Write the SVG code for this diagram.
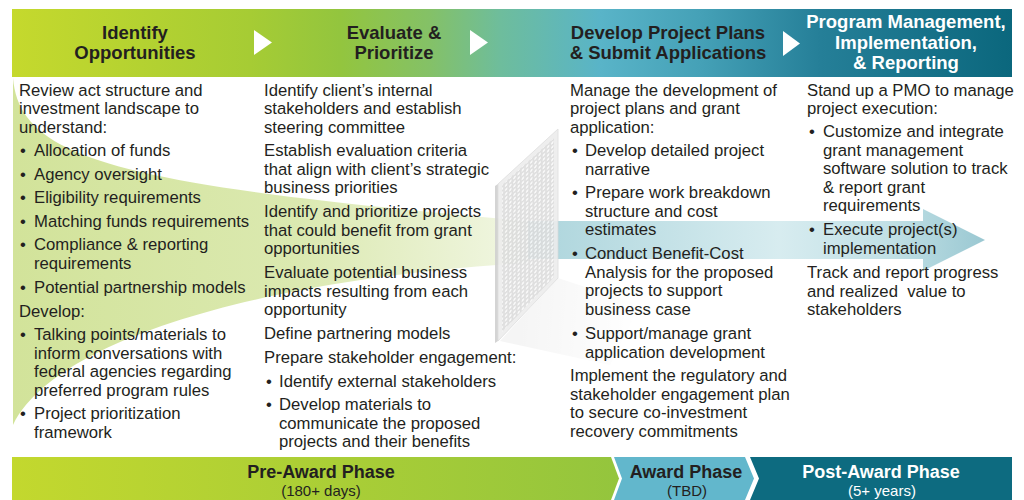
<svg xmlns="http://www.w3.org/2000/svg" width="1024" height="500" viewBox="0 0 1024 500">
  <defs>
    <style>
      .hd { font-family: "Liberation Sans", Arial, sans-serif; font-weight: bold; font-size: 18.5px; fill: #231f20; text-anchor: middle; }
      .hdw { fill: #ffffff; }
      .tx { font-family: "Liberation Sans", Arial, sans-serif; font-size: 16.7px; fill: #231f20; }
      .ph { font-family: "Liberation Sans", Arial, sans-serif; font-weight: bold; font-size: 18px; fill: #231f20; text-anchor: middle; }
      .ps { font-family: "Liberation Sans", Arial, sans-serif; font-size: 15px; fill: #231f20; text-anchor: middle; }
      .wt { fill: #ffffff; }
      .chev { fill: #ffffff; }
    </style>
    <linearGradient id="bandGrad" gradientUnits="userSpaceOnUse" x1="12" y1="0" x2="1012" y2="0">
      <stop offset="0" stop-color="#c5d92d"/>
      <stop offset="0.238" stop-color="#a6cc34"/>
      <stop offset="0.328" stop-color="#93c53e"/>
      <stop offset="0.418" stop-color="#84c167"/>
      <stop offset="0.488" stop-color="#6ebd9c"/>
      <stop offset="0.588" stop-color="#59b4c8"/>
      <stop offset="0.688" stop-color="#45a1b7"/>
      <stop offset="0.808" stop-color="#257f98"/>
      <stop offset="1" stop-color="#0b677d"/>
    </linearGradient>
    <linearGradient id="preGrad" gradientUnits="userSpaceOnUse" x1="12" y1="0" x2="619" y2="0">
      <stop offset="0" stop-color="#c3d82e"/>
      <stop offset="1" stop-color="#94c53d"/>
    </linearGradient>
    <linearGradient id="funnelGrad" gradientUnits="userSpaceOnUse" x1="13" y1="0" x2="528" y2="0">
      <stop offset="0" stop-color="#d2e39a"/>
      <stop offset="0.55" stop-color="#dbe9b0"/>
      <stop offset="0.95" stop-color="#eff5de"/>
      <stop offset="1" stop-color="#e3eee9"/>
    </linearGradient>
    <linearGradient id="arrowGrad" gradientUnits="userSpaceOnUse" x1="528" y1="0" x2="985" y2="0">
      <stop offset="0" stop-color="#a3d0d8"/>
      <stop offset="0.55" stop-color="#d3eaee"/>
      <stop offset="0.8" stop-color="#b9dce2"/>
      <stop offset="1" stop-color="#8fc2cd"/>
    </linearGradient>
    <linearGradient id="shadowGrad" gradientUnits="userSpaceOnUse" x1="520" y1="320" x2="640" y2="330">
      <stop offset="0" stop-color="#000000" stop-opacity="0.04"/>
      <stop offset="1" stop-color="#000000" stop-opacity="0"/>
    </linearGradient>
    <pattern id="holes" patternUnits="userSpaceOnUse" width="4.2" height="4.2" patternTransform="skewY(-42.5)">
      <rect width="4.2" height="4.2" fill="#dcdcdc"/>
      <circle cx="2.1" cy="2.1" r="1.3" fill="#fafafa"/>
    </pattern>
  </defs>

  <rect width="1024" height="500" fill="#ffffff"/>

  <!-- stage header band -->
  <rect id="stage-band" x="12" y="9" width="1000" height="68" fill="url(#bandGrad)"/>

  <!-- flow: funnel narrowing into the screen, arrow leaving it -->
  <g id="connectors">
    <path id="funnel" d="M13,78 C20,160 120,185 528,221 L528,263 C300,276 60,330 13,425 Z" fill="url(#funnelGrad)"/>
    <path id="flow-arrow" d="M528,221 L923,221 L923,209 L985,240 L923,271 L923,259 L528,259 Z" fill="url(#arrowGrad)" opacity="0.9"/>
    <polygon class="chev" points="254,30 272,42.5 254,55"/>
    <polygon class="chev" points="470,30 488,42.5 470,55"/>
    <polygon class="chev" points="783,31 800,43.5 783,56"/>
  </g>

  <!-- perforated screening panel -->
  <g id="screen">
    <polygon points="500,341 558,278 640,305 610,365" fill="url(#shadowGrad)"/>
    <g opacity="0.9">
      <polygon points="495,186 498,184 498,341 495,343" fill="#d0d0d0"/>
      <polygon points="498,184 558,129 558,278 498,341" fill="#ededed" stroke="#dadada" stroke-width="0.8"/>
      <polygon points="502,185 554,138 554,277 502,332" fill="url(#holes)"/>
    </g>
  </g>

  <!-- stage headings -->
  <g id="stage-identify">
    <text class="hd" x="135" y="39">Identify</text>
    <text class="hd" x="135" y="59">Opportunities</text>
  </g>
  <g id="stage-evaluate">
    <text class="hd" x="394" y="39">Evaluate &amp;</text>
    <text class="hd" x="394" y="59">Prioritize</text>
  </g>
  <g id="stage-develop">
    <text class="hd" x="668" y="39">Develop Project Plans</text>
    <text class="hd" x="668" y="59">&amp; Submit Applications</text>
  </g>
  <g id="stage-program">
    <text class="hd hdw" x="906" y="28">Program Management,</text>
    <text class="hd hdw" x="906" y="48.5">Implementation,</text>
    <text class="hd hdw" x="906" y="69">&amp; Reporting</text>
  </g>

  <!-- column 1 -->
  <g id="col-identify" class="tx">
    <text x="19" y="95.5">Review act structure and</text>
    <text x="19" y="114">investment landscape to</text>
    <text x="19" y="132.5">understand:</text>
    <text x="20" y="156">•</text><text x="34" y="156">Allocation of funds</text>
    <text x="20" y="179.5">•</text><text x="34" y="179.5">Agency oversight</text>
    <text x="20" y="203">•</text><text x="34" y="203">Eligibility requirements</text>
    <text x="20" y="226.5">•</text><text x="34" y="226.5">Matching funds requirements</text>
    <text x="20" y="250">•</text><text x="34" y="250">Compliance &amp; reporting</text>
    <text x="34" y="268.5">requirements</text>
    <text x="20" y="293">•</text><text x="34" y="293">Potential partnership models</text>
    <text x="19" y="316.5">Develop:</text>
    <text x="20" y="340">•</text><text x="34" y="340">Talking points/materials to</text>
    <text x="34" y="358.5">inform conversations with</text>
    <text x="34" y="377">federal agencies regarding</text>
    <text x="34" y="395.5">preferred program rules</text>
    <text x="20" y="419">•</text><text x="34" y="419">Project prioritization</text>
    <text x="34" y="437.5">framework</text>
  </g>

  <!-- column 2 -->
  <g id="col-evaluate" class="tx">
    <text x="264" y="95.5">Identify client’s internal</text>
    <text x="264" y="114">stakeholders and establish</text>
    <text x="264" y="132.5">steering committee</text>
    <text x="264" y="156">Establish evaluation criteria</text>
    <text x="264" y="174.5">that align with client’s strategic</text>
    <text x="264" y="193">business priorities</text>
    <text x="264" y="217">Identify and prioritize projects</text>
    <text x="264" y="235.5">that could benefit from grant</text>
    <text x="264" y="254">opportunities</text>
    <text x="264" y="278">Evaluate potential business</text>
    <text x="264" y="296.5">impacts resulting from each</text>
    <text x="264" y="315">opportunity</text>
    <text x="264" y="339">Define partnering models</text>
    <text x="264" y="363">Prepare stakeholder engagement:</text>
    <text x="266" y="386.5">•</text><text x="279" y="386.5">Identify external stakeholders</text>
    <text x="266" y="410">•</text><text x="279" y="410">Develop materials to</text>
    <text x="279" y="428.5">communicate the proposed</text>
    <text x="279" y="447">projects and their benefits</text>
  </g>

  <!-- column 3 -->
  <g id="col-develop" class="tx">
    <text x="570" y="95.5">Manage the development of</text>
    <text x="570" y="114">project plans and grant</text>
    <text x="570" y="132.5">application:</text>
    <text x="572" y="156">•</text><text x="585" y="156">Develop detailed project</text>
    <text x="585" y="174.5">narrative</text>
    <text x="572" y="198">•</text><text x="585" y="198">Prepare work breakdown</text>
    <text x="585" y="216.5">structure and cost</text>
    <text x="585" y="235">estimates</text>
    <text x="572" y="259">•</text><text x="585" y="259">Conduct Benefit-Cost</text>
    <text x="585" y="277.5">Analysis for the proposed</text>
    <text x="585" y="296">projects to support</text>
    <text x="585" y="314.5">business case</text>
    <text x="572" y="339">•</text><text x="585" y="339">Support/manage grant</text>
    <text x="585" y="357.5">application development</text>
    <text x="570" y="381">Implement the regulatory and</text>
    <text x="570" y="399.5">stakeholder engagement plan</text>
    <text x="570" y="418">to secure co-investment</text>
    <text x="570" y="436.5">recovery commitments</text>
  </g>

  <!-- column 4 -->
  <g id="col-program" class="tx">
    <text x="807" y="95.5">Stand up a PMO to manage</text>
    <text x="807" y="114">project execution:</text>
    <text x="809" y="137">•</text><text x="823" y="137">Customize and integrate</text>
    <text x="823" y="155.5">grant management</text>
    <text x="823" y="174">software solution to track</text>
    <text x="823" y="192.5">&amp; report grant</text>
    <text x="823" y="211">requirements</text>
    <text x="809" y="235">•</text><text x="823" y="235">Execute project(s)</text>
    <text x="823" y="253.5">implementation</text>
    <text x="807" y="278">Track and report progress</text>
    <text x="807" y="296.5" xml:space="preserve">and realized  value to</text>
    <text x="807" y="315">stakeholders</text>
  </g>

  <!-- phase bar -->
  <g id="phase-pre">
    <polygon points="12,457 611,457 619,478.5 611,500 12,500" fill="url(#preGrad)"/>
    <text class="ph" x="321" y="478">Pre-Award Phase</text>
    <text class="ps" x="321" y="496">(180+ days)</text>
  </g>
  <g id="phase-award">
    <polygon points="614,457 745,457 754,478.5 745,500 614,500 622,478.5" fill="#62b7cc"/>
    <text class="ph" x="686" y="478">Award Phase</text>
    <text class="ps" x="687" y="496">(TBD)</text>
  </g>
  <g id="phase-post">
    <polygon points="750,457 1012,457 1012,500 750,500 759,478.5" fill="#0d6b80"/>
    <text class="ph wt" x="881" y="478">Post-Award Phase</text>
    <text class="ps wt" x="882" y="496">(5+ years)</text>
  </g>
</svg>
